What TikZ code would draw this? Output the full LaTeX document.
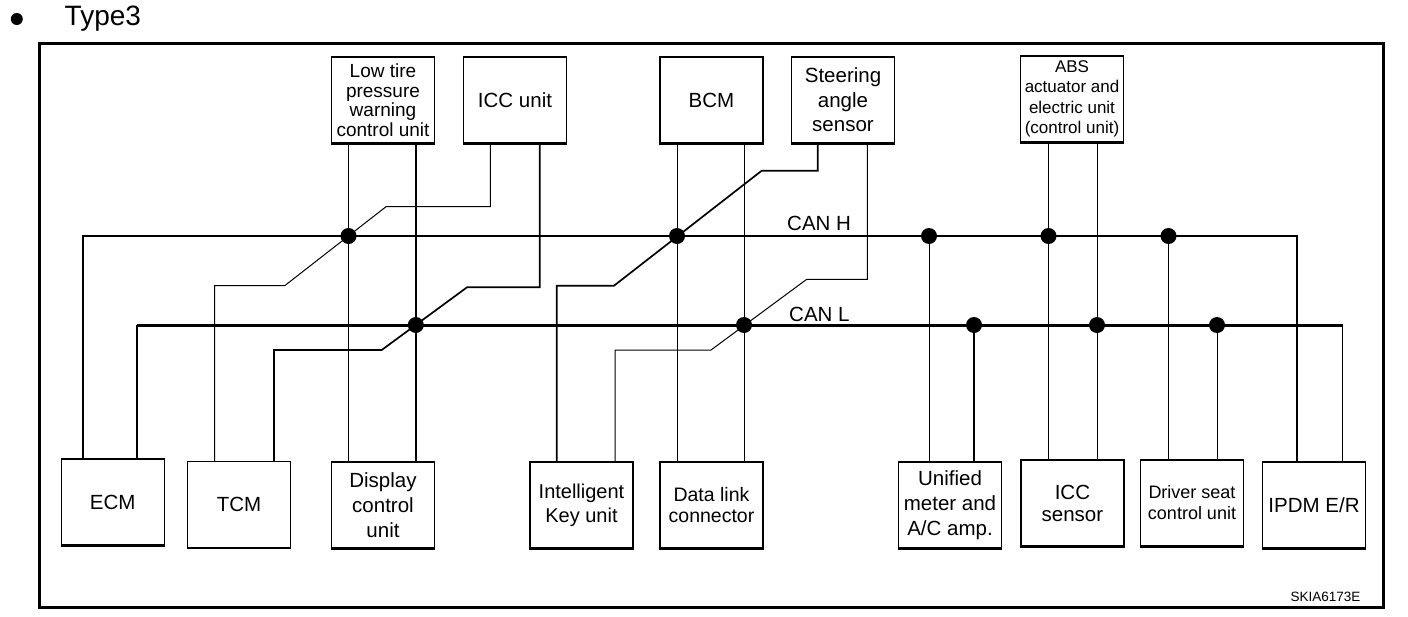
\documentclass[tikz,border=0pt]{standalone}
\usepackage{fontspec}
\setmainfont{Liberation Sans}
\usetikzlibrary{positioning}

\tikzset{
    unit/.style={draw, line width=1.2pt, minimum width=103pt, minimum height=86pt,
        inner sep=0pt, align=center, font=\fontsize{20.5}{25}\selectfont},
    wire/.style={line width=1pt},
    wirebold/.style={line width=1.7pt},
    canh/.style={line width=2pt},
    canl/.style={line width=3pt},
    splice/.style={circle, fill, inner sep=0pt, minimum size=16pt},
    buslabel/.style={anchor=base west, inner sep=0pt, font=\fontsize{20.5}{24}\selectfont}
}

\begin{document}
\begin{tikzpicture}[x=1pt, y=-1pt]
    \useasboundingbox (0,0) rectangle (1408,616);

        % Heading
        \node[splice, minimum size=12pt] (bullet) at (16.8,19) {};
        \node[anchor=base west, inner sep=0pt, font=\fontsize{28}{30}\selectfont] (title) at (64.5,25) {Type3};

        % Frame
        \draw[line width=3pt] (39.5,43.3) rectangle (1383,607.3);

        % Upper units
        \node[unit, font=\fontsize{19}{19.5}\selectfont] (lowtire) at (383,100) {Low tire\\pressure\\warning\\control unit};
        \node[unit] (iccunit) at (515,100) {ICC unit};
        \node[unit] (bcm) at (711.5,100) {BCM};
        \node[unit, font=\fontsize{20.5}{24.5}\selectfont] (steer) at (843,100) {Steering\\angle\\sensor};
        \node[unit, font=\fontsize{17}{20.5}\selectfont] (abs) at (1072,99) {ABS\\actuator and\\electric unit\\(control unit)};

        % Lower units
        \node[unit] (ecm) at (112.7,502) {ECM};
        \node[unit] (tcm) at (239,504.7) {TCM};
        \node[unit] (display) at (383,505) {Display\\control\\unit};
        \node[unit, font=\fontsize{20}{24}\selectfont] (ikey) at (581.5,505) {Intelligent\\Key unit};
        \node[unit, font=\fontsize{19.5}{21.5}\selectfont] (dlc) at (711.5,505) {Data link\\connector};
        \node[unit] (unified) at (950,505) {Unified\\meter and\\A/C amp.};
        \node[unit, font=\fontsize{20.5}{22}\selectfont] (iccsens) at (1072.4,503) {ICC\\sensor};
        \node[unit, font=\fontsize{18}{21}\selectfont] (seat) at (1192,503) {Driver seat\\control unit};
        \node[unit] (ipdm) at (1314,505) {IPDM E/R};

        % heavier bottom edges
        \foreach \u in {lowtire, iccunit, bcm, steer, abs, ecm, tcm, display, ikey, dlc, unified, iccsens, seat, ipdm}
            \draw[line width=2.2pt] (\u.south west) -- (\u.south east);

        % Splices
        \foreach \n/\x in {hA/348.5, hB/677, hC/929, hD/1048.5, hE/1168.5}
            \node[splice] (\n) at (\x,236) {};
        \foreach \n/\x in {lA/415.8, lB/744, lC/974, lD/1097, lE/1217}
            \node[splice] (\n) at (\x,325) {};

        % CAN H bus
        \coordinate (hL) at (83,236);
        \coordinate (hR) at (1297,236);
        \draw[canh] (ecm.north -| hL) -- (hL) -- (hR) -- (ipdm.north -| hR);
        \node[buslabel] (canhlabel) at (787,230) {CAN H};

        % CAN L bus
        \coordinate (lL) at (137,325);
        \coordinate (lR) at (1342.7,325);
        \draw[canl] (lL) -- (lR);
        \draw[wire, line width=1.4pt] (ecm.north -| lL) -- (lL);
        \draw[wire] (lR) -- (ipdm.north -| lR);
        \node[buslabel] (canllabel) at (789,321) {CAN L};

        % Straight drops
        \draw[wire] (lowtire.south -| hA) -- (display.north -| hA);
        \draw[wirebold] (lowtire.south -| lA) -- (display.north -| lA);
        \draw[wire] (bcm.south -| hB) -- (dlc.north -| hB);
        \draw[wire] (bcm.south -| lB) -- (dlc.north -| lB);
        \draw[wire] (abs.south -| hD) -- (iccsens.north -| hD);
        \draw[wire] (abs.south -| lD) -- (iccsens.north -| lD);
        \draw[wire] (hC) -- (unified.north -| hC);
        \draw[wirebold] (lC) -- (unified.north -| lC);
        \draw[wire] (hE) -- (seat.north -| hE);
        \draw[wire] (lE) -- (seat.north -| lE);

        % Crossing lines
        \draw[wire] ([xshift=-24.6pt]iccunit.south) |- (386,206.7) -- (284.7,285.7) -| ([xshift=-24.4pt]tcm.north);
        \draw[wirebold] ([xshift=24.7pt]iccunit.south) |- (467,287.3) -- (381.7,350) -| ([xshift=35pt]tcm.north);
        \draw[wirebold] ([xshift=-25.3pt]steer.south) |- (761.7,170.7) -- (614,285.7) -| ([xshift=-24.7pt]ikey.north);
        \draw[wire] ([xshift=24.3pt]steer.south) |- (806.7,279.3) -- (711,350) -| ([xshift=33.7pt]ikey.north);

        % Code
        \node[anchor=base east, inner sep=0pt, font=\fontsize{13.5}{15}\selectfont] (code) at (1360.5,601.7) {SKIA6173E};

    \end{tikzpicture}
\end{document}
